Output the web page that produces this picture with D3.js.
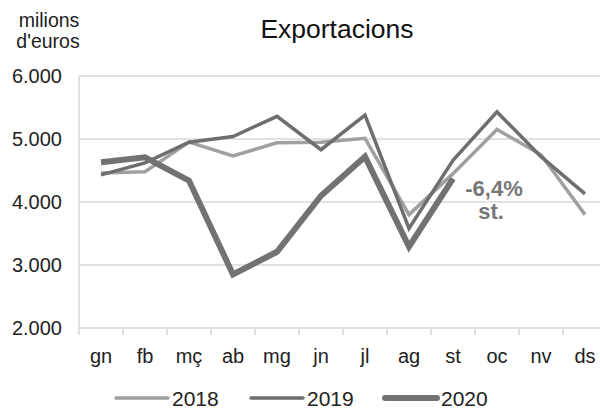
<!DOCTYPE html>
<html>
<head>
<meta charset="utf-8">
<script src="https://cdn.jsdelivr.net/npm/d3@7"></script>
<style>
  body { margin: 0; background: #fff; }
  text { font-family: "Liberation Sans", Arial, sans-serif; }
</style>
</head>
<body>
<div id="chart"></div>
<script>
var months = ['gn','fb','mç','ab','mg','jn','jl','ag','st','oc','nv','ds'];
var v2018 = [4460, 4480, 4950, 4730, 4940, 4950, 5010, 3800, 4450, 5150, 4750, 3800];
var v2019 = [4430, 4620, 4950, 5040, 5360, 4830, 5380, 3580, 4660, 5430, 4720, 4130];
var v2020 = [4630, 4710, 4340, 2850, 3210, 4100, 4720, 3290, 4370];
var yTicks = [2000, 3000, 4000, 5000, 6000];

var series = [
  {name: '2018', values: v2018, color: '#a0a0a0', width: 3.5},
  {name: '2019', values: v2019, color: '#6e6e6e', width: 3.5},
  {name: '2020', values: v2020, color: '#727272', width: 6}
];

var W = 600, H = 408;
var margin = {top: 76, left: 79, right: -7, bottom: 80};
var cWidth = W - margin.left - margin.right,
    cHeight = H - margin.top - margin.bottom;

var svg = d3.select('#chart').append('svg')
  .attr('width', W)
  .attr('height', H);

var g = svg.append('g')
  .attr('transform', 'translate(' + margin.left + ',' + margin.top + ')');

var x = d3.scaleBand().domain(months).range([0, cWidth]);
var y = d3.scaleLinear().domain([2000, 6000]).range([cHeight, 0]);

// gridlines
g.selectAll('.grid')
  .data(yTicks)
  .enter().append('line')
  .attr('class', 'grid')
  .attr('x1', 0).attr('x2', cWidth)
  .attr('y1', function(d) { return y(d); })
  .attr('y2', function(d) { return y(d); })
  .attr('stroke', '#d9d9d9')
  .attr('stroke-width', 1.5);

// y axis line
g.append('line')
  .attr('x1', 0).attr('x2', 0)
  .attr('y1', 0).attr('y2', cHeight)
  .attr('stroke', '#d9d9d9').attr('stroke-width', 1.5);

// x tick marks
var tickPos = months.map(function(m) { return x(m); }).concat([cWidth]);
g.selectAll('.xtick')
  .data(tickPos)
  .enter().append('line')
  .attr('x1', function(d) { return d; })
  .attr('x2', function(d) { return d; })
  .attr('y1', cHeight).attr('y2', cHeight + 7)
  .attr('stroke', '#d9d9d9').attr('stroke-width', 1.5);

// y labels
g.selectAll('.ylab')
  .data(yTicks)
  .enter().append('text')
  .attr('x', -17)
  .attr('y', function(d) { return y(d); })
  .attr('dy', '0.36em')
  .attr('text-anchor', 'end')
  .attr('font-size', 20)
  .attr('fill', '#222')
  .text(function(d) { return d3.format(',')(d).replace(',', '.'); });

// x labels
g.selectAll('.xlab')
  .data(months)
  .enter().append('text')
  .attr('x', function(d) { return x(d) + x.bandwidth() / 2; })
  .attr('y', cHeight + 35)
  .attr('text-anchor', 'middle')
  .attr('font-size', 20)
  .attr('fill', '#222')
  .text(function(d) { return d; });

var line = d3.line()
  .x(function(d, i) { return x(months[i]) + x.bandwidth() / 2; })
  .y(function(d) { return y(d); });

g.selectAll('.series')
  .data(series)
  .enter().append('path')
  .attr('d', function(s) { return line(s.values); })
  .attr('fill', 'none')
  .attr('stroke', function(s) { return s.color; })
  .attr('stroke-width', function(s) { return s.width; })
  .attr('stroke-linejoin', 'miter');

// annotation
var annX = x('st') + x.bandwidth() / 2 + 41;
var ann = g.append('text')
  .attr('x', annX)
  .attr('y', y(4370) + 17)
  .attr('text-anchor', 'middle')
  .attr('font-size', 22)
  .attr('font-weight', 'bold')
  .attr('fill', '#777');
ann.append('tspan').text('-6,4%');
ann.append('tspan')
  .attr('x', annX - 3)
  .attr('dy', 23)
  .text('st.');

// title and unit
svg.append('text')
  .attr('x', 337).attr('y', 38)
  .attr('text-anchor', 'middle')
  .attr('font-size', 26.5)
  .attr('fill', '#111')
  .text('Exportacions');

svg.append('text')
  .attr('x', 49).attr('y', 27)
  .attr('text-anchor', 'middle')
  .attr('font-size', 19.5)
  .attr('fill', '#222')
  .text('milions');
svg.append('text')
  .attr('x', 48).attr('y', 48)
  .attr('text-anchor', 'middle')
  .attr('font-size', 19.5)
  .attr('fill', '#222')
  .text("d'euros");

// legend
var legX = [116, 251, 385];
var legend = svg.selectAll('.legend')
  .data(series)
  .enter().append('g')
  .attr('class', 'legend')
  .attr('transform', function(d, i) { return 'translate(' + legX[i] + ',398)'; });

legend.append('line')
  .attr('x1', 0).attr('x2', 52)
  .attr('y1', 0).attr('y2', 0)
  .attr('stroke', function(d) { return d.color; })
  .attr('stroke-width', function(d) { return d.width; })
  .attr('stroke-linecap', 'round');

legend.append('text')
  .attr('x', 56)
  .attr('y', 7.5)
  .attr('font-size', 21)
  .attr('fill', '#222')
  .text(function(d) { return d.name; });
</script>
</body>
</html>
